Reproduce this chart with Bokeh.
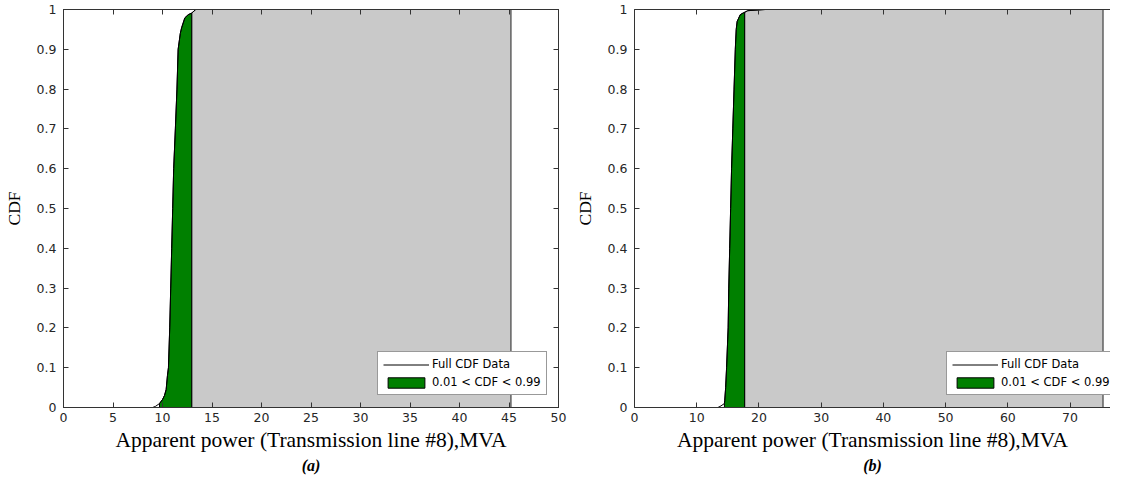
import numpy as np
from bokeh.plotting import figure
from bokeh.layouts import row
from bokeh.models import (FixedTicker, CustomJSTickFormatter, LinearAxis, Legend,
                          LegendItem, Title, Range1d)
from bokeh.embed import file_html
from bokeh.resources import INLINE

# ---------------- data ----------------
# Panel (a)
a_x = [2.0, 9.0, 9.3, 9.7, 10.0, 10.2, 10.37, 10.5, 10.6, 10.73, 10.83, 10.93,
       11.03, 11.13, 11.3, 11.46, 11.58, 11.8, 11.93, 12.26, 12.6, 12.95, 13.36, 45.2]
a_cdf = [0.0, 0.0, 0.003, 0.01, 0.02, 0.03, 0.045, 0.08, 0.1, 0.2, 0.3, 0.4,
         0.5, 0.6, 0.7, 0.8, 0.9, 0.94, 0.954, 0.979, 0.987, 0.991, 1.0, 1.0]
a_lo, a_hi = 9.7, 12.95
a_xticks = [0, 5, 10, 15, 20, 25, 30, 35, 40, 45, 50]
a_xmax = 50

# Panel (b)
b_x = [5.0, 13.4, 13.9, 14.45, 14.5, 14.65, 14.8, 15.05, 15.15, 15.3, 15.45, 15.6,
       15.8, 16.0, 16.2, 16.35, 16.5, 17.0, 17.55, 17.7, 18.2, 21.0, 75.3]
b_cdf = [0.0, 0.0, 0.004, 0.01, 0.017, 0.05, 0.1, 0.2, 0.3, 0.4, 0.5, 0.6,
         0.7, 0.8, 0.9, 0.95, 0.97, 0.987, 0.992, 0.993, 0.997, 1.0, 1.0]
b_lo, b_hi = 14.45, 17.7
b_xticks = [0, 10, 20, 30, 40, 50, 60, 70]
b_xmax = 76.5

y_ticks = [0, 0.1, 0.2, 0.3, 0.4, 0.5, 0.6, 0.7, 0.8, 0.9, 1.0]
x_label = "Apparent power (Transmission line #8),MVA"
y_label = "CDF"
legend_labels = ["Full CDF Data", "0.01 < CDF < 0.99"]

AX = "#333333"
TXT = "#262626"
GREEN = "#008000"
GRAY = "#c9c9c9"


def panel(xs, cdf, lo, hi, xmax, xticks, tag, width, top, right, mirror_right,
          legend_x, tag_offset):
    xs = np.array(xs)
    cdf = np.array(cdf)
    p = figure(width=width, height=475, output_backend="svg", toolbar_location=None,
               x_range=Range1d(0, xmax), y_range=Range1d(0, 1),
               min_border_left=58, min_border_right=right, min_border_top=top,
               min_border_bottom=68, x_axis_label=x_label, y_axis_label=y_label)
    p.grid.visible = False
    p.background_fill_color = "white"
    p.border_fill_color = "white"
    if mirror_right:
        p.outline_line_color = AX
        p.outline_line_width = 1
    else:
        p.outline_line_color = None

    # areas under the CDF
    m_g = (xs >= lo) & (xs <= hi)
    gx = [lo] + list(xs[m_g]) + [hi]
    gy = [0.0] + list(cdf[m_g]) + [0.0]
    m_s = xs >= hi
    sx = [hi] + list(xs[m_s]) + [xs[-1]]
    sy = [0.0] + list(cdf[m_s]) + [0.0]
    p.patch(sx, sy, fill_color=GRAY, line_color="#222222", line_width=1)
    green = p.patch(gx, gy, fill_color=GREEN, line_color="black", line_width=1)
    line = p.line(xs, cdf, line_color="black", line_width=1)

    fmt = CustomJSTickFormatter(code="return Number(tick.toFixed(2)).toString();")
    blank = CustomJSTickFormatter(code="return '';")

    for ax in p.xaxis:
        ax.ticker = FixedTicker(ticks=xticks)
    for ax in p.yaxis:
        ax.ticker = FixedTicker(ticks=y_ticks)
        ax.formatter = fmt
    for ax in list(p.xaxis) + list(p.yaxis):
        ax.axis_line_color = AX
        ax.major_tick_line_color = AX
        ax.major_tick_in = 5
        ax.major_tick_out = 0
        ax.minor_tick_line_color = None
        ax.major_label_text_font = "DejaVu Sans"
        ax.major_label_text_font_size = "12.5px"
        ax.major_label_text_color = TXT
        ax.axis_label_text_font = "Liberation Serif"
        ax.axis_label_text_font_style = "normal"
        ax.axis_label_text_color = "black"
    p.xaxis.major_label_standoff = 5
    p.xaxis.axis_label_standoff = 3
    p.xaxis.axis_label_text_font_size = "21.5px"
    p.yaxis.major_label_standoff = 7
    p.yaxis.axis_label_standoff = 10
    p.yaxis.axis_label_text_font_size = "17.5px"

    # mirrored ticks (MATLAB box)
    top_ax = LinearAxis(ticker=FixedTicker(ticks=xticks), formatter=blank,
                        axis_line_color=AX, major_tick_line_color=AX,
                        major_tick_in=5, major_tick_out=0, minor_tick_line_color=None,
                        major_label_standoff=0)
    p.add_layout(top_ax, "above")
    if mirror_right:
        r_ax = LinearAxis(ticker=FixedTicker(ticks=y_ticks), formatter=blank,
                          axis_line_color=AX, major_tick_line_color=AX,
                          major_tick_in=5, major_tick_out=0, minor_tick_line_color=None,
                          major_label_standoff=0)
        p.add_layout(r_ax, "right")

    legend = Legend(items=[LegendItem(label=legend_labels[0], renderers=[line]),
                           LegendItem(label=legend_labels[1], renderers=[green])],
                    location=(legend_x, 12), orientation="vertical",
                    border_line_color=AX, border_line_width=1,
                    background_fill_color="white", background_fill_alpha=1.0,
                    padding=5, spacing=4, margin=0,
                    glyph_width=46, glyph_height=13, label_standoff=3,
                    label_text_font="DejaVu Sans", label_text_font_size="11.5px",
                    label_text_color="black", label_height=13)
    p.add_layout(legend, "center")

    p.add_layout(Title(text=tag, align="center", text_font="Liberation Serif",
                       text_font_style="bold italic", text_font_size="16px",
                       text_color="black", standoff=0, offset=tag_offset), "below")
    return p


pa = panel(a_x, a_cdf, a_lo, a_hi, a_xmax, a_xticks, "(a)", 571, 7, 13, True, 314, 0)
pb = panel(b_x, b_cdf, b_lo, b_hi, b_xmax, b_xticks, "(b)", 539, 9, 0, False, 312, 10)

layout = row(pa, pb, spacing=0)
open("out.html", "w").write(file_html(layout, INLINE))
